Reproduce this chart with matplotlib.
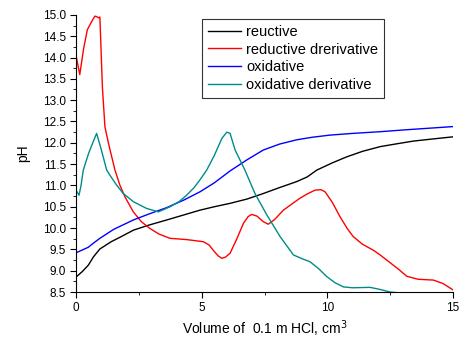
import numpy as np
import matplotlib.pyplot as plt

plt.rcParams['font.family'] = ['Liberation Sans', 'DejaVu Sans']

# reuctive
red_x = [0, 0.25, 0.49, 0.7, 0.95, 1.4, 1.8, 2.28, 2.9, 3.61, 4.3, 4.93, 5.5, 6.13, 6.8, 7.45, 8.1, 8.78, 9.2, 9.58, 10.2, 10.77, 11.4, 12.1, 12.8, 13.42, 14.2, 15]
red_y = [8.85, 8.98, 9.13, 9.33, 9.51, 9.68, 9.8, 9.95, 10.07, 10.19, 10.31, 10.42, 10.5, 10.58, 10.68, 10.81, 10.95, 11.09, 11.2, 11.36, 11.53, 11.67, 11.8, 11.91, 11.98, 12.04, 12.09, 12.14]

# reductive drerivative
rd_x = [0, 0.15, 0.3, 0.45, 0.6, 0.75, 0.82, 0.9, 0.95, 1.05, 1.15, 1.29, 1.55, 1.75, 1.95, 2.28, 2.6, 2.94, 3.3, 3.74, 4.4, 5.07, 5.3, 5.46, 5.65, 5.8, 5.95, 6.13, 6.4, 6.66, 6.85, 6.99, 7.2, 7.45, 7.65, 7.9, 8.25, 8.6, 8.91, 9.2, 9.51, 9.75, 9.91, 10.2, 10.5, 10.8, 11.03, 11.4, 11.83, 12.1, 12.36, 12.8, 13.16, 13.6, 14.22, 14.6, 15]
rd_y = [14.05, 13.6, 14.2, 14.65, 14.82, 14.97, 14.96, 14.93, 14.95, 13.3, 12.38, 11.99, 11.36, 11.0, 10.73, 10.38, 10.15, 9.99, 9.86, 9.76, 9.73, 9.68, 9.6, 9.48, 9.35, 9.29, 9.32, 9.41, 9.75, 10.11, 10.27, 10.32, 10.28, 10.15, 10.09, 10.2, 10.42, 10.57, 10.7, 10.8, 10.89, 10.9, 10.85, 10.6, 10.27, 9.98, 9.8, 9.62, 9.48, 9.37, 9.25, 9.05, 8.87, 8.8, 8.78, 8.7, 8.55]

# oxidative
ox_x = [0, 0.49, 0.7, 0.95, 1.5, 2.28, 2.9, 3.61, 4.3, 4.93, 5.5, 6.13, 6.8, 7.45, 8.1, 8.78, 9.4, 10.1, 11.0, 12.1, 13.0, 14.0, 15]
ox_y = [9.42, 9.55, 9.65, 9.76, 9.97, 10.19, 10.33, 10.48, 10.66, 10.85, 11.06, 11.34, 11.6, 11.83, 11.97, 12.07, 12.13, 12.18, 12.22, 12.26, 12.3, 12.34, 12.38]

# oxidative derivative
od_x = [0, 0.12, 0.2, 0.29, 0.5, 0.7, 0.82, 1.0, 1.22, 1.35, 1.6, 1.88, 2.28, 2.81, 3.28, 3.74, 4.1, 4.4, 4.7, 4.93, 5.2, 5.5, 5.8, 6.0, 6.13, 6.33, 6.72, 7.12, 7.59, 8.12, 8.65, 9.0, 9.31, 9.65, 9.98, 10.3, 10.64, 11.0, 11.7, 12.1, 12.5, 13.0, 14.0, 15]
od_y = [10.89, 10.77, 11.0, 11.36, 11.75, 12.05, 12.22, 11.85, 11.36, 11.24, 11.02, 10.81, 10.62, 10.46, 10.38, 10.5, 10.62, 10.77, 10.95, 11.13, 11.36, 11.7, 12.1, 12.25, 12.22, 11.83, 11.36, 10.81, 10.31, 9.8, 9.37, 9.28, 9.21, 9.05, 8.86, 8.72, 8.62, 8.6, 8.61, 8.56, 8.5, 8.47, 8.48, 8.45]

fig = plt.figure(figsize=(4.59, 3.38), dpi=100, facecolor='w')
ax = fig.add_axes([0.1656, 0.136, 0.8214, 0.82])

ax.plot(red_x, red_y, color='black', lw=1, label='reuctive')
ax.plot(rd_x, rd_y, color='#ff0000', lw=1, label='reductive drerivative')
ax.plot(ox_x, ox_y, color='#0000ff', lw=1, label='oxidative')
ax.plot(od_x, od_y, color='#008b8b', lw=1, label='oxidative derivative')

ax.set_xlim(0, 15)
ax.set_ylim(8.5, 15.0)
ax.set_xticks([0, 5, 10, 15])
ax.set_xticks(np.arange(0, 15.1, 2.5), minor=True)
ax.set_yticks(np.arange(8.5, 15.01, 0.5))
ax.set_yticks(np.arange(8.5, 15.01, 0.25), minor=True)
ax.yaxis.set_major_formatter(plt.FormatStrFormatter('%.1f'))
ax.tick_params(which='major', length=4, labelsize=8.5, direction='out', pad=3)
ax.tick_params(which='minor', length=2, direction='out')
for s in ['top', 'right']:
    ax.spines[s].set_visible(False)

ax.set_xlabel('Volume of  0.1 m HCl, cm$^3$', fontsize=10, labelpad=3)
ax.set_ylabel('pH', fontsize=10, labelpad=9)

leg = ax.legend(loc='upper left', bbox_to_anchor=(0.334, 0.985), fontsize=10.5,
                frameon=True, fancybox=False, edgecolor='black', handlelength=2.3,
                handletextpad=0.35, labelspacing=0.25, borderpad=0.4,
                borderaxespad=0)
leg.get_frame().set_linewidth(0.8)

plt.savefig('out.png', dpi=100)
